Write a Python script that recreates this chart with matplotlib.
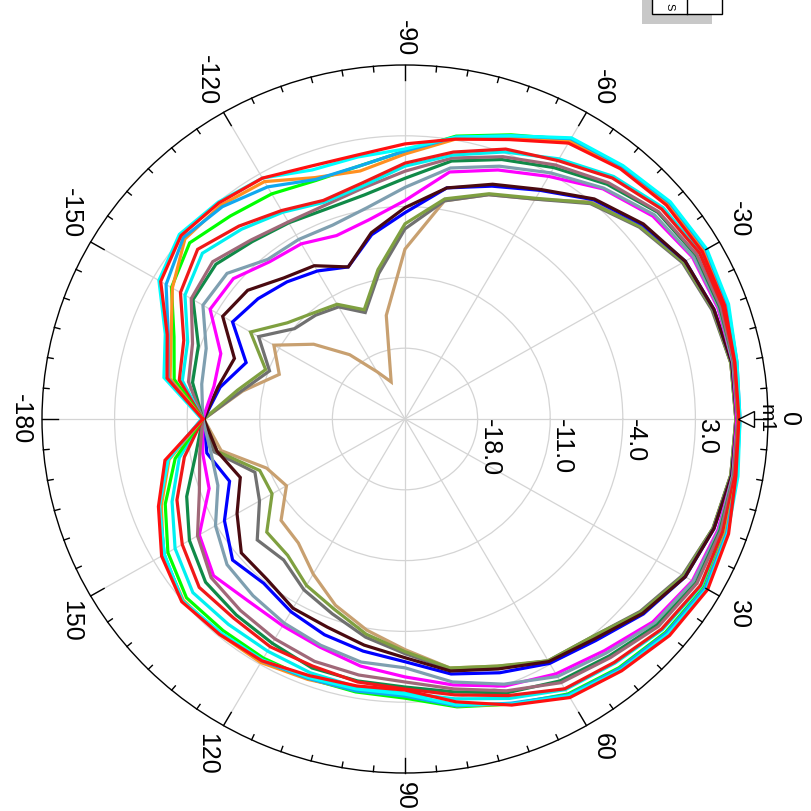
import numpy as np
import matplotlib
matplotlib.use("Agg")
import matplotlib.pyplot as plt
from matplotlib.patches import Rectangle
from matplotlib.lines import Line2D

plt.rcParams["font.family"] = ["Liberation Sans", "DejaVu Sans"]

# angle grid of every trace, degrees (clockwise from the right)
ANGLES_DEG = list(range(-180, 181, 10))

R_MIN, R_MAX = -25.0, 10.0
RING_VALUES = [-18.0, -11.0, -4.0, 3.0]
THETA_TICKS = [0, 30, 60, 90, 120, 150, 180, 210, 240, 270, 300, 330]
THETA_LABELS = ["0", "30", "60", "90", "120", "150", "-180", "-150", "-120", "-90", "-60", "-30"]

# gain traces in dB, -180 .. 180 step 10
RED_A = [-5.5, -1.7, -0.6, 2.2, 3.2, 2.9, 2.5, 1.6, 1.5, 2.2, 3.1, 4.4, 6.5, 7.3, 7.9, 8.1, 7.8, 7.3, 7.2,
         7.4, 8.2, 8.7, 8.3, 7.5, 6.8, 5.1, 3.4, 1.8, 1.8, 2.0, 2.6, 2.8, 3.1, 2.1, 0.3, -1.5, -5.5]
CYAN_B = [-5.4, -1.4, -0.4, 2.4, 3.4, 3.0, 2.5, 1.2, 1.3, 1.7, 3.3, 4.8, 7.1, 7.7, 8.4, 8.6, 8.2, 7.5, 7.3,
          7.6, 8.1, 8.6, 8.1, 7.4, 6.6, 5.0, 3.7, 2.2, 2.1, 2.2, 2.5, 2.6, 3.0, 1.8, 0.2, -1.8, -5.4]
SKY_C = [-5.4, -1.8, -0.7, 1.6, 2.9, 2.4, 1.5, 0.2, 0.4, 1.5, 3.3, 4.8, 7.0, 7.6, 8.3, 8.5, 8.1, 7.5, 7.3,
         7.5, 8.0, 8.4, 7.9, 7.2, 6.5, 4.9, 3.8, 2.4, 2.3, 2.3, 2.6, 2.7, 3.0, 1.8, 0.2, -1.7, -5.4]
ORANGE_D = [-5.5, -2.0, -1.0, 0.9, 2.7, 2.6, 2.1, 0.4, -0.1, 1.2, 3.1, 4.6, 6.7, 7.4, 8.1, 8.3, 8.0, 7.4, 7.2,
            7.5, 7.9, 8.4, 8.0, 7.3, 6.6, 5.0, 3.8, 2.3, 2.2, 2.4, 2.8, 2.8, 2.9, 1.9, 0.0, -1.9, -5.5]
LIME_E = [-5.5, -2.4, -1.3, 1.0, 2.1, 1.2, 0.7, 0.1, 0.4, 1.5, 3.4, 4.9, 6.9, 7.6, 8.2, 8.4, 8.0, 7.4, 7.2,
          7.5, 7.9, 8.3, 7.8, 7.1, 6.4, 5.0, 3.9, 2.6, 2.4, 2.3, 2.3, 2.3, 2.5, 1.4, -0.4, -2.5, -5.5]
RED_F = [-5.5, -2.9, -2.3, 0.0, 1.1, -0.1, -1.2, -2.0, -1.3, 0.3, 1.8, 3.4, 4.5, 6.1, 7.3, 7.8, 7.6, 7.3, 7.2,
         7.3, 7.6, 7.9, 7.3, 6.4, 5.8, 4.1, 2.7, 1.7, 1.4, 1.0, 1.0, 0.7, 0.9, -0.2, -1.6, -3.4, -5.5]
CYAN_G = [-5.5, -3.2, -2.7, -0.5, 0.5, -0.5, -1.4, -2.2, -1.6, 0.0, 1.5, 3.1, 4.7, 6.3, 7.5, 7.9, 7.7, 7.4, 7.2,
          7.4, 7.7, 8.0, 7.4, 6.5, 5.9, 4.4, 3.1, 2.1, 1.9, 1.7, 1.5, 1.5, 1.7, 0.6, -1.1, -2.9, -5.5]
MAUVE_H = [-5.5, -3.8, -3.2, -1.2, -0.8, -1.9, -2.5, -2.5, -1.8, -0.5, 1.2, 2.6, 4.0, 5.5, 6.9, 7.5, 7.4, 7.2, 7.1,
           7.2, 7.4, 7.5, 6.9, 5.8, 5.1, 3.6, 2.1, 1.0, 0.7, 0.5, 0.1, -0.3, -0.6, -1.9, -3.9, -4.9, -5.5]
GREEN_I = [-5.5, -4.2, -3.8, -1.4, -1.2, -2.1, -2.6, -2.9, -2.5, -1.2, 0.9, 2.3, 3.7, 5.3, 6.8, 7.4, 7.3, 7.2, 7.1,
           7.2, 7.3, 7.4, 6.7, 5.6, 4.9, 3.8, 2.4, 1.5, 1.3, 1.2, 0.6, 0.3, 0.1, -1.0, -2.6, -4.5, -5.5]
SLATE_J = [-5.5, -5.1, -4.6, -2.5, -2.6, -4.4, -4.5, -4.6, -3.8, -2.1, 0.2, 1.6, 3.1, 4.8, 6.4, 7.1, 7.2, 7.1, 7.1,
           7.1, 7.2, 7.1, 6.4, 5.2, 4.4, 2.9, 1.4, -0.4, -0.6, -1.2, -1.7, -2.2, -2.6, -3.9, -5.8, -6.0, -5.5]
MAGENTA_K = [-5.5, -6.3, -6.1, -3.3, -3.4, -4.7, -5.0, -5.7, -5.0, -3.4, -0.2, 1.2, 2.7, 4.7, 6.2, 7.0, 7.1, 7.1, 7.0,
             7.1, 7.1, 7.0, 6.2, 4.9, 4.1, 3.1, 1.7, 0.5, -0.2, -1.0, -1.4, -1.5, -0.9, -2.1, -4.9, -5.2, -5.5]
MAROON_L = [-5.6, -6.7, -7.5, -4.7, -5.2, -6.8, -7.5, -9.0, -6.3, -4.1, -1.8, -0.3, 1.2, 3.4, 5.0, 6.2, 6.7, 7.0, 7.0,
            7.0, 6.7, 6.2, 4.9, 3.4, 2.7, 1.3, 0.3, -1.4, -2.3, -3.1, -3.4, -4.3, -4.4, -6.3, -8.1, -6.6, -5.6]
BLUE_M = [-5.6, -6.9, -8.7, -5.8, -6.5, -7.3, -8.1, -9.0, -6.5, -4.6, -1.8, -0.5, 1.1, 3.3, 4.9, 6.2, 6.7, 7.0, 7.0,
          7.0, 6.7, 6.2, 5.0, 3.6, 2.9, 1.7, 0.6, -1.0, -1.7, -2.3, -3.0, -3.8, -3.3, -4.9, -7.0, -5.6, -5.6]
OLIVE_N = [-5.6, -8.6, -10.7, -7.8, -10.2, -11.3, -11.9, -13.5, -10.0, -5.7, -2.9, -1.3, 0.2, 2.9, 4.6, 6.0, 6.6, 6.9, 6.9,
           6.9, 6.6, 6.0, 4.7, 3.1, 2.6, 1.0, 0.0, -2.0, -3.4, -5.0, -6.0, -7.4, -7.6, -10.2, -10.1, -6.6, -5.6]
GRAY_O = [-5.6, -9.0, -11.1, -8.7, -11.1, -11.6, -12.2, -13.8, -10.4, -6.2, -3.1, -1.4, 0.1, 2.8, 4.5, 5.9, 6.5, 6.9, 6.9,
          6.9, 6.6, 5.9, 4.6, 3.1, 2.6, 1.1, 0.1, -1.8, -3.1, -4.5, -5.5, -6.8, -6.4, -8.8, -9.6, -6.3, -5.6]
TAN_P = [-5.6, -9.1, -12.1, -10.4, -13.5, -16.7, -19.6, -21.1, -14.6, -8.2, -3.1, -1.4, 0.1, 3.0, 4.6, 6.0, 6.6, 6.9, 6.9,
         6.9, 6.6, 6.0, 4.7, 3.2, 2.7, 1.0, 0.0, -2.2, -3.8, -5.4, -7.3, -9.0, -9.4, -11.8, -10.8, -7.0, -5.6]

# drawing order: inner traces first
TRACES = [
    (TAN_P, "#C8A070"),
    (GRAY_O, "#707070"),
    (OLIVE_N, "#7FA040"),
    (BLUE_M, "#0000FF"),
    (MAROON_L, "#4A0A10"),
    (MAGENTA_K, "#FF00FF"),
    (SLATE_J, "#7F9FB0"),
    (GREEN_I, "#108A48"),
    (MAUVE_H, "#A06878"),
    (CYAN_G, "#00F0F0"),
    (RED_F, "#F01818"),
    (LIME_E, "#00FF00"),
    (ORANGE_D, "#FF9020"),
    (SKY_C, "#10A8F0"),
    (CYAN_B, "#00FFFF"),
    (RED_A, "#FF1010"),
]

MARKER_NAME = "m1"
MARKER_ANGLE = 0.0
MARKER_VALUE = 7.85
LEGEND_TEXT = "S"

W, H = 811, 811
FS = 18
GRID_COLOR = "#D4D4D4"


def fx(px):
    return px / W


def fy(py):
    return 1.0 - py / H


def main():
    fig = plt.figure(figsize=(W / 100, H / 100), dpi=100)
    # plot area is slightly squashed vertically in the reference
    ax = fig.add_axes([fx(42), fy(773), fx(726), 708 / H], projection="polar")
    ax.set_aspect("auto")
    ax.set_theta_zero_location("E")
    ax.set_theta_direction(-1)

    theta = np.deg2rad(ANGLES_DEG)
    for values, color in TRACES:
        assert len(values) == len(ANGLES_DEG)
        ax.plot(theta, values, color=color, lw=2.3, solid_joinstyle="miter", zorder=3)

    ax.set_ylim(R_MIN, R_MAX)
    ax.set_xticks(np.deg2rad(THETA_TICKS))
    ax.set_xticklabels([])
    ax.set_yticks(RING_VALUES)
    ax.set_yticklabels([])
    ax.grid(True, color=GRID_COLOR, lw=0.9)
    ax.tick_params(length=0)
    ax.spines["polar"].set_color("black")
    ax.spines["polar"].set_linewidth(1.0)

    # inward ticks on the outer ring
    for a in range(0, 360, 5):
        ln = 1.5 if a % 30 == 0 else 0.55
        ax.plot([np.deg2rad(a)] * 2, [R_MAX, R_MAX - ln], color="black", lw=1.0,
                clip_on=False, zorder=4)

    # angle labels, rotated like the reference
    for a, lab in zip(THETA_TICKS, THETA_LABELS):
        c, s = np.cos(np.deg2rad(a)), np.sin(np.deg2rad(a))
        ha = "left" if c > 0.3 else ("right" if c < -0.3 else "center")
        va = "top" if s > 0.3 else ("bottom" if s < -0.3 else "center")
        ax.text(np.deg2rad(a), R_MAX + 0.85, lab, rotation=-90, ha=ha, va=va,
                fontsize=FS, clip_on=False)

    for rv in RING_VALUES:
        ax.text(0.0, rv, f"{rv:.1f}", rotation=-90, ha="left", va="top", fontsize=FS, zorder=5)

    # marker m1
    ax.plot([np.deg2rad(MARKER_ANGLE)], [MARKER_VALUE], marker="<", ms=11, mfc="white",
            mec="black", mew=1.0, clip_on=False, zorder=6)
    ax.text(np.deg2rad(MARKER_ANGLE), MARKER_VALUE + 1.0, MARKER_NAME, rotation=-90,
            ha="left", va="center", fontsize=15, zorder=6)

    ax.set_ylim(R_MIN, R_MAX)

    # legend table at the top edge (mostly outside the picture)
    fig.add_artist(Rectangle((fx(642), fy(24)), fx(70), 0.05, transform=fig.transFigure,
                             facecolor="#C8C8C8", edgecolor="none", zorder=1))
    fig.add_artist(Rectangle((fx(652), fy(14)), fx(70), 0.05, transform=fig.transFigure,
                             facecolor="white", edgecolor="black", lw=1.0, zorder=2))
    fig.add_artist(Line2D([fx(687), fx(687)], [fy(14), 1.0], transform=fig.transFigure,
                          color="black", lw=1.0, zorder=3))
    fig.text(fx(669), fy(7), LEGEND_TEXT, rotation=-90, ha="center", va="center",
             fontsize=8, zorder=4)

    fig.savefig("out.png", dpi=100, facecolor="white")
    plt.close(fig)


if __name__ == "__main__":
    main()
